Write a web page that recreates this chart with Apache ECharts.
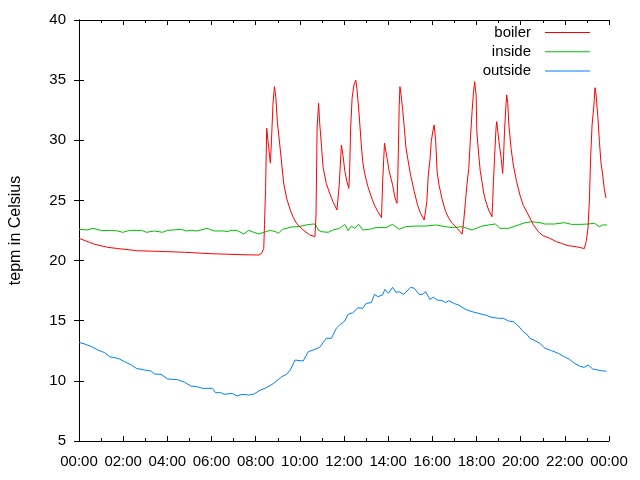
<!DOCTYPE html>
<html>
<head>
<meta charset="utf-8">
<script src="https://cdn.jsdelivr.net/npm/echarts@6/dist/echarts.min.js"></script>
<style>html,body{margin:0;padding:0;background:#fff;}#c{width:640px;height:480px;}</style>
</head>
<body>
<div id="c"></div>
<script>
// minutes since midnight
const boilerTime = [0,43,78,105,159,232,286,359,440,488,496,502,504,507,510,515,520,523,527,531,535,539,547,556,564,574,582,591,609,627,641,644,647,651,654,659,663,672,681,690,701,707,710,713,717,722,728,733,735,738,742,747,752,755,760,767,771,776,785,794,803,812,822,825,830,832,837,843,852,858,864,866,868,870,872,875,879,884,888,893,901,911,920,928,938,942,945,949,954,957,962,965,969,973,978,987,996,1005,1014,1027,1041,1045,1050,1054,1059,1063,1068,1072,1075,1079,1081,1086,1090,1095,1099,1104,1113,1122,1124,1126,1129,1133,1135,1138,1141,1147,1151,1153,1156,1160,1162,1165,1168,1174,1180,1189,1198,1207,1221,1234,1248,1261,1279,1297,1311,1329,1351,1373,1378,1383,1387,1390,1394,1399,1402,1405,1410,1414,1418,1423,1427,1432];
const boilerTemp = [21.85,21.35,21.1,21.0,20.82,20.75,20.69,20.57,20.49,20.46,20.6,21.0,23.0,26.0,31.0,29.5,28.1,30.0,33.0,34.46,33.5,31.5,29.2,26.45,25.2,24.2,23.6,23.1,22.54,22.13,21.99,23.8,31.1,33.07,31.4,29.47,27.8,26.4,25.6,24.9,24.2,26.3,27.95,29.6,28.8,27.5,26.56,26.0,27.1,31.0,33.5,34.6,35.0,34.3,32.6,29.6,28.2,27.25,26.15,25.3,24.6,24.07,23.57,26.56,29.75,29.6,28.5,27.4,26.3,25.3,24.76,26.8,29.6,32.9,34.46,33.8,32.66,31.0,29.47,28.5,27.1,25.73,24.6,23.93,23.37,23.23,24.9,27.1,28.5,29.9,30.86,31.27,30.0,27.4,26.3,25.04,24.07,23.5,23.1,22.7,22.2,23.2,24.9,26.3,27.67,29.9,32.4,34.04,34.87,33.77,30.7,28.8,27.5,26.56,25.7,25.04,24.2,23.65,24.9,26.56,28.5,31.0,31.55,30.7,29.9,28.5,27.25,28.2,30.7,32.9,33.77,33.07,31.27,29.3,27.95,26.56,25.45,24.6,23.79,23.0,22.4,22.07,21.85,21.57,21.43,21.24,21.15,21.0,21.57,22.7,25.2,28.5,31.27,32.9,34.37,33.77,31.8,29.9,28.2,27.1,26.0,25.2];

const insideTime = [0,24,38,62,89,105,119,138,170,183,205,227,240,278,291,305,321,348,367,394,402,413,429,448,461,475,488,507,520,534,542,553,564,577,601,617,636,642,650,658,677,690,708,722,731,740,749,760,771,789,807,834,852,870,888,915,942,969,996,1014,1041,1068,1095,1113,1131,1144,1167,1194,1212,1230,1252,1266,1292,1319,1338,1364,1383,1400,1414,1423,1435];
const insideTemp = [22.60,22.54,22.68,22.49,22.51,22.46,22.35,22.51,22.51,22.35,22.46,22.35,22.51,22.60,22.46,22.51,22.46,22.68,22.46,22.46,22.40,22.51,22.51,22.21,22.51,22.35,22.21,22.40,22.51,22.40,22.27,22.60,22.68,22.79,22.84,22.96,23.04,23.01,22.54,22.40,22.35,22.54,22.68,23.01,22.49,22.87,22.68,23.01,22.54,22.60,22.74,22.74,23.01,22.60,22.82,22.87,22.87,22.96,22.82,22.74,22.82,22.54,22.87,22.96,23.04,22.68,22.68,22.96,23.15,23.23,23.15,23.04,23.04,23.15,23.01,23.01,23.04,23.10,22.82,22.96,22.96];

const outsideTime = [0,16,34,52,70,84,106,124,142,156,178,196,205,223,241,268,286,304,322,335,362,371,385,394,416,430,443,461,475,493,506,529,551,564,574,587,609,623,636,654,672,686,699,708,722,731,744,758,771,780,794,803,812,825,831,841,852,861,870,882,901,911,924,933,942,953,963,973,987,996,1005,1018,1032,1050,1068,1086,1104,1122,1140,1153,1167,1180,1194,1207,1216,1225,1239,1252,1266,1284,1302,1319,1333,1346,1360,1372,1383,1396,1410,1423,1433];
const outsideTemp = [13.2,13.06,12.84,12.56,12.34,12.0,11.87,11.6,11.32,11.04,10.9,10.82,10.57,10.54,10.15,10.1,9.9,9.57,9.51,9.38,9.38,9.02,9.02,8.88,8.96,8.74,8.88,8.82,8.9,9.24,9.38,9.79,10.35,10.54,10.9,11.73,11.65,12.42,12.56,12.79,13.54,13.54,14.37,14.64,14.97,15.53,15.67,16.08,16.03,16.44,16.5,17.19,17.0,17.14,17.61,17.28,17.78,17.36,17.41,17.19,17.78,17.69,17.19,17.19,17.41,16.78,16.95,16.72,16.67,16.5,16.67,16.44,16.3,15.94,15.75,15.61,15.47,15.28,15.2,15.2,14.97,14.92,14.56,14.09,13.9,13.54,13.34,13.12,12.71,12.51,12.29,12.0,11.79,11.46,11.23,11.12,11.32,10.98,10.9,10.82,10.82];

const seriesNames = ['boiler','inside','outside'];
const seriesColors = ['#ff0000','#00c000','#0080ff'];
const yTitle = 'tepm in Celsius';

function zip(a,b){return a.map((t,i)=>[t,b[i]]);}
function hhmm(v){const h=Math.floor(v/60)%24;return (h<10?'0':'')+h+':00';}

const FONT = "'Liberation Sans', Arial, sans-serif";
const tickBase = {show:true, inside:true, length:5, lineStyle:{color:'#000',width:1}};
const minorBase = {show:true, splitNumber:2, length:3, lineStyle:{color:'#000',width:1}};

const chart = echarts.init(document.getElementById('c'), null, {renderer:'canvas'});
chart.setOption({
  animation:false,
  backgroundColor:'#fff',
  textStyle:{fontFamily:FONT},
  grid:{left:74, right:31, top:20, bottom:39, containLabel:false},
  legend:{
    orient:'vertical', align:'right', right:50, top:25, itemGap:4.3,
    icon:'rect', itemWidth:45, itemHeight:1,
    textStyle:{fontSize:15, color:'#000', fontFamily:FONT, padding:[0,9,0,0]},
    data:seriesNames
  },
  xAxis:[
    {type:'value', min:0, max:1440, interval:120, position:'bottom',
     axisLine:{show:true, lineStyle:{color:'#000',width:1}},
     axisTick:tickBase, minorTick:minorBase, splitLine:{show:false},
     axisLabel:{fontSize:15, color:'#000', margin:13, fontFamily:FONT, formatter:hhmm}},
    {type:'value', min:0, max:1440, interval:120, position:'top',
     axisLine:{show:true, lineStyle:{color:'#000',width:1}},
     axisTick:tickBase, minorTick:minorBase, splitLine:{show:false},
     axisLabel:{show:false}}
  ],
  yAxis:[
    {type:'value', min:5, max:40, interval:5, position:'left',
     name:yTitle, nameLocation:'middle', nameGap:55,
     nameTextStyle:{fontSize:16, color:'#000', fontFamily:FONT},
     axisLine:{show:true, lineStyle:{color:'#000',width:1}},
     axisTick:tickBase, splitLine:{show:false},
     axisLabel:{fontSize:15, color:'#000', margin:13, fontFamily:FONT}},
    {type:'value', min:5, max:40, interval:5, position:'right',
     axisLine:{show:true, lineStyle:{color:'#000',width:1}},
     axisTick:tickBase, splitLine:{show:false},
     axisLabel:{show:false}}
  ],
  series:[
    {name:seriesNames[0], type:'line', symbol:'none', color:seriesColors[0], lineStyle:{width:1,color:seriesColors[0]}, data:zip(boilerTime,boilerTemp), z:3},
    {name:seriesNames[1], type:'line', symbol:'none', color:seriesColors[1], lineStyle:{width:1,color:seriesColors[1]}, data:zip(insideTime,insideTemp), z:2},
    {name:seriesNames[2], type:'line', symbol:'none', color:seriesColors[2], lineStyle:{width:1,color:seriesColors[2]}, data:zip(outsideTime,outsideTemp), z:2}
  ]
}, true);
// legend placement tweak to match reference
chart.setOption({legend:{right:45, top:20}});
</script>
</body>
</html>
